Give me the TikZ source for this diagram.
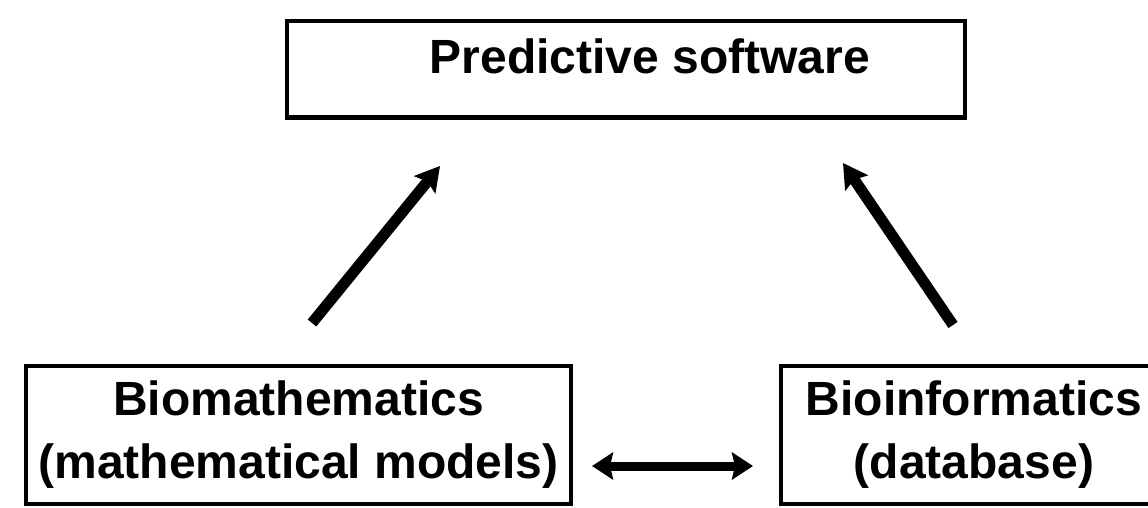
\documentclass[tikz,border=0pt]{standalone}
\usepackage{fontspec}
\setmainfont{Liberation Sans}
\usetikzlibrary{arrows.meta}

\newcommand*{\picw}{1148}
\newcommand*{\pich}{507}

\begin{document}
\begin{tikzpicture}
[
	x=1pt, y=-1pt,
	box/.style={draw,line width=4.5pt,inner sep=0pt,align=center,
		font=\bfseries\fontsize{48}{63}\selectfont},
	bigarrow/.style={line width=11pt,-{Stealth[length=24pt,width=27pt,inset=4pt]}},
	linkarrow/.style={line width=9pt,{Stealth[length=21pt,width=27pt,inset=3pt]}-{Stealth[length=21pt,width=27pt,inset=3pt]}}
]

	% page frame
	\useasboundingbox (0,0) rectangle (\picw,\pich);
	\clip (0,0) rectangle (\picw,\pich);

	% boxes
	\node[box,minimum width=678pt,minimum height=96.5pt,text height=35pt,text depth=27pt] at (626,69) (pred) {\hspace*{48pt}Predictive software};
	\node[box,minimum width=545pt,minimum height=138pt] at (298.5,435) (biomath) {Biomathematics\\(mathematical models)};
	\node[box,minimum width=386pt,minimum height=138pt] at (974,435) (bioinf) {Bioinformatics\\(database)};

	% arrow ends
	\coordinate (biomath-out) at (312,323);
	\coordinate (pred-left) at (440,166);
	\coordinate (bioinf-out) at (953,325);
	\coordinate (pred-right) at (843,163);
	\coordinate (link-left) at (592,466);
	\coordinate (link-right) at (753,466);

	% arrows
	\draw[bigarrow] (biomath-out) -- (pred-left);
	\draw[bigarrow] (bioinf-out) -- (pred-right);
	\draw[linkarrow] (link-left) -- (link-right);

\end{tikzpicture}
\end{document}
